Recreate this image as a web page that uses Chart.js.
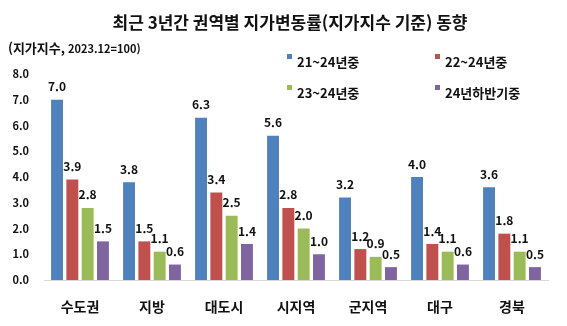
<!DOCTYPE html>
<html lang="ko">
<head>
<meta charset="utf-8">
<script src="https://cdn.jsdelivr.net/npm/chart.js@4"></script>
<style>
  html, body { margin: 0; padding: 0; background: #fff; }
  #wrap { width: 567px; height: 326px; position: relative; }
</style>
</head>
<body>
<div id="wrap"><canvas id="grafico"></canvas></div>
<script>
// 권역별 지가변동률 (지가지수 기준)
var regiones = ['수도권', '지방', '대도시', '시지역', '군지역', '대구', '경북'];
var serie2124 = [7.0, 3.8, 6.3, 5.6, 3.2, 4.0, 3.6];
var serie2224 = [3.9, 1.5, 3.4, 2.8, 1.2, 1.4, 1.8];
var serie2324 = [2.8, 1.1, 2.5, 2.0, 0.9, 1.1, 1.1];
var serie24h2 = [1.5, 0.6, 1.4, 1.0, 0.5, 0.6, 0.5];
var nombresSerie = ['21~24년중', '22~24년중', '23~24년중', '24년하반기중'];
var ticksY = [0, 1, 2, 3, 4, 5, 6, 7, 8];

var colores = ['#4F81BD', '#C0504D', '#9BBB59', '#8064A2'];
var fuente = '"Noto Sans CJK KR", "Noto Sans", sans-serif';
var texto = '#111';

var valores = [serie2124, serie2224, serie2324, serie24h2];

// titulo, subtitulo y leyenda dibujados a mano
var decoracion = {
  id: 'decoracion',
  afterDraw: function (chart) {
    var ctx = chart.ctx;
    ctx.save();
    ctx.fillStyle = texto;
    ctx.textBaseline = 'middle';

    ctx.font = 'bold 17px ' + fuente;
    ctx.textAlign = 'center';
    ctx.fillText('최근 3년간 권역별 지가변동률(지가지수 기준) 동향', 290, 23);

    ctx.textAlign = 'left';
    ctx.font = 'bold 13px ' + fuente;
    var parte1 = '(지가지수,';
    ctx.fillText(parte1, 8, 48);
    var w = ctx.measureText(parte1).width;
    ctx.font = 'bold 11px ' + fuente;
    ctx.fillText(' 2023.12=100)', 8 + w, 49);

    var posiciones = [[287, 62], [435, 62], [287, 93], [435, 93]];
    ctx.font = 'bold 13px ' + fuente;
    chart.data.datasets.forEach(function (ds, i) {
      var p = posiciones[i];
      ctx.fillStyle = ds.backgroundColor;
      ctx.fillRect(p[0], p[1] - 8, 5, 5);
      ctx.fillStyle = texto;
      ctx.fillText(ds.label, p[0] + 10, p[1]);
    });
    ctx.restore();
  }
};

// valores encima de cada barra
var etiquetasValor = {
  id: 'etiquetasValor',
  afterDatasetsDraw: function (chart) {
    var ctx = chart.ctx;
    ctx.save();
    ctx.font = 'bold 12px ' + fuente;
    ctx.fillStyle = texto;
    ctx.textAlign = 'center';
    ctx.textBaseline = 'middle';
    chart.data.datasets.forEach(function (ds, i) {
      chart.getDatasetMeta(i).data.forEach(function (bar, j) {
        ctx.fillText(ds.data[j].toFixed(1), bar.x, bar.y - 13);
      });
    });
    ctx.restore();
  }
};

var ctx = document.getElementById('grafico').getContext('2d');
var miGrafico = new Chart(ctx, {
  type: 'bar',
  data: {
    labels: regiones,
    datasets: valores.map(function (v, i) {
      return {
        label: nombresSerie[i],
        data: v,
        backgroundColor: colores[i],
        borderWidth: 0,
        categoryPercentage: 0.85,
        barPercentage: 0.78
      };
    })
  },
  options: {
    responsive: true,
    maintainAspectRatio: false,
    animation: false,
    layout: { padding: { top: 74, right: 19, bottom: 0, left: 0 } },
    plugins: {
      legend: { display: false },
      title: { display: false },
      tooltip: { enabled: false }
    },
    scales: {
      x: {
        grid: { display: false, drawTicks: false },
        border: { display: true, color: '#d9d9d9', width: 1 },
        ticks: {
          color: texto,
          padding: 18,
          font: { family: fuente, size: 14, weight: 'bold' }
        },
        afterFit: function (s) { s.height = 46; }
      },
      y: {
        min: 0,
        max: 8,
        grid: { display: false, drawTicks: false },
        border: { display: false },
        afterBuildTicks: function (s) {
          s.ticks = ticksY.map(function (v) { return { value: v }; });
        },
        ticks: {
          color: texto,
          padding: 15,
          font: { family: fuente, size: 11, weight: 'bold' },
          callback: function (v) { return Number(v).toFixed(1); }
        },
        afterFit: function (s) { s.width = 44; }
      }
    }
  },
  plugins: [decoracion, etiquetasValor]
});
</script>
</body>
</html>
